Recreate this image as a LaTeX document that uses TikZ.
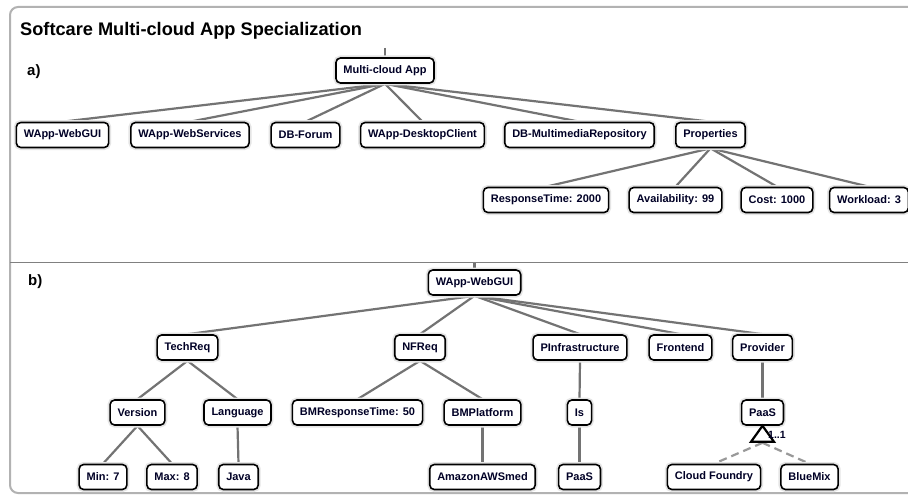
\documentclass[tikz,border=0pt]{standalone}
\usepackage{fontspec}
\setmainfont{Liberation Sans}
\pgfdeclarelayer{background}
\pgfsetlayers{background,main}
\begin{document}
\begin{tikzpicture}[x=1pt,y=-1pt,
  box/.style={draw=black, line width=1.6pt, rounded corners=4.5pt, fill=white,
    font=\fontsize{11}{13}\selectfont\bfseries, text=black!85!blue,
    inner xsep=7.5pt, inner ysep=0pt, minimum height=25pt,
    preaction={draw=black!10, line width=5pt}},
  edge/.style={draw=black!55, line width=2.2pt},
  optedge/.style={draw=black!40, line width=2.2pt, dash pattern=on 8pt off 5pt},
  lab/.style={font=\fontsize{15}{17}\selectfont\bfseries, anchor=base west, inner sep=0pt},
]
\useasboundingbox (0,0) rectangle (908,495);
\clip (0,0) rectangle (908,495);
% titles
\node[font=\fontsize{18.2}{21}\selectfont\bfseries, anchor=base west, inner sep=0pt] (title) at (20,36) {Softcare Multi-cloud App Specialization};
\node[lab] (la) at (27,76) {a)};
\node[lab] (lb) at (28,285) {b)};
% a) nodes
\node[box] (m) at (385,70.5) {Multi-cloud App};
\node[box] (a1) at (62.5,135) {WApp-WebGUI};
\node[box] (a2) at (190,135) {WApp-WebServices};
\node[box] (a3) at (305.5,135) {DB-Forum};
\node[box] (a4) at (422.5,135) {WApp-DesktopClient};
\node[box] (a5) at (579.5,135) {DB-MultimediaRepository};
\node[box] (a6) at (710.5,135) {Properties};
\node[box] (p1) at (546,200) {ResponseTime: 2000};
\node[box] (p2) at (675.5,200) {Availability: 99};
\node[box] (p3) at (777,200) {Cost: 1000};
\node[box] (p4) at (869,200) {Workload: 3};
% b) nodes
\node[box] (w) at (474.5,282.5) {WApp-WebGUI};
\node[box] (t) at (187.5,347.5) {TechReq};
\node[box] (n) at (420,347.5) {NFReq};
\node[box] (pi) at (580,347.5) {PInfrastructure};
\node[box] (f) at (680.5,347.5) {Frontend};
\node[box] (pr) at (762.5,347.5) {Provider};
\node[box] (v) at (137.5,412.5) {Version};
\node[box] (l) at (237.5,412.5) {Language};
\node[box] (bmr) at (357.5,412.5) {BMResponseTime: 50};
\node[box] (bmp) at (482.5,412.5) {BMPlatform};
\node[box] (is) at (579.5,412.5) {Is};
\node[box] (paas) at (762.5,412.5) {PaaS};
\node[box] (mn) at (103,477) {Min: 7};
\node[box] (mx) at (172,477) {Max: 8};
\node[box] (java) at (238.5,477) {Java};
\node[box] (aws) at (482.5,477) {AmazonAWSmed};
\node[box] (paas2) at (579.5,477) {PaaS};
\node[box] (cf) at (714,477) {Cloud Foundry};
\node[box] (bm) at (809.5,477) {BlueMix};
\coordinate (ms) at (385,48);
\coordinate (ws) at (474.5,263);
% alternative group marker
\draw[line width=2.2pt, fill=white, line join=miter] (paas.south) -- ++(-11.5,16) -- ++(23,0) -- cycle;
\coordinate (tri) at ([yshift=-17pt]paas.south);
\node[font=\fontsize{10.5}{12}\selectfont\bfseries, anchor=west, inner sep=0pt, text=black!85!blue] (card) at (768,434.5) {1..1};
\begin{pgfonlayer}{background}
\fill[white] (0,0) rectangle (908,495);
\draw[draw=black!30, line width=2pt, rounded corners=8pt] (10,7) rectangle (940,493);
\draw[draw=black!50, line width=1pt] (10,262) -- (908,262);
\draw[edge] (ms) -- (m.north);
\draw[edge] (ws) -- (w.north);
\foreach \c in {a1,a2,a3,a4,a5,a6} \draw[edge] (m.south) -- (\c.north);
\foreach \c in {p1,p2,p3,p4} \draw[edge] (a6.south) -- (\c.north);
\foreach \c in {t,n,pi,f,pr} \draw[edge] (w.south) -- (\c.north);
\draw[edge] (t.south) -- (v.north);
\draw[edge] (t.south) -- (l.north);
\draw[edge] (v.south) -- (mn.north);
\draw[edge] (v.south) -- (mx.north);
\draw[edge] (l.south) -- (java.north);
\draw[edge] (n.south) -- (bmr.north);
\draw[edge] (n.south) -- (bmp.north);
\draw[edge] (bmp.south) -- (aws.north);
\draw[edge] (pi.south) -- (is.north);
\draw[edge] (is.south) -- (paas2.north);
\draw[edge] (pr.south) -- (paas.north);
\draw[optedge] (tri) -- (cf.north);
\draw[optedge] (tri) -- (bm.north);
\end{pgfonlayer}
\end{tikzpicture}
\end{document}
